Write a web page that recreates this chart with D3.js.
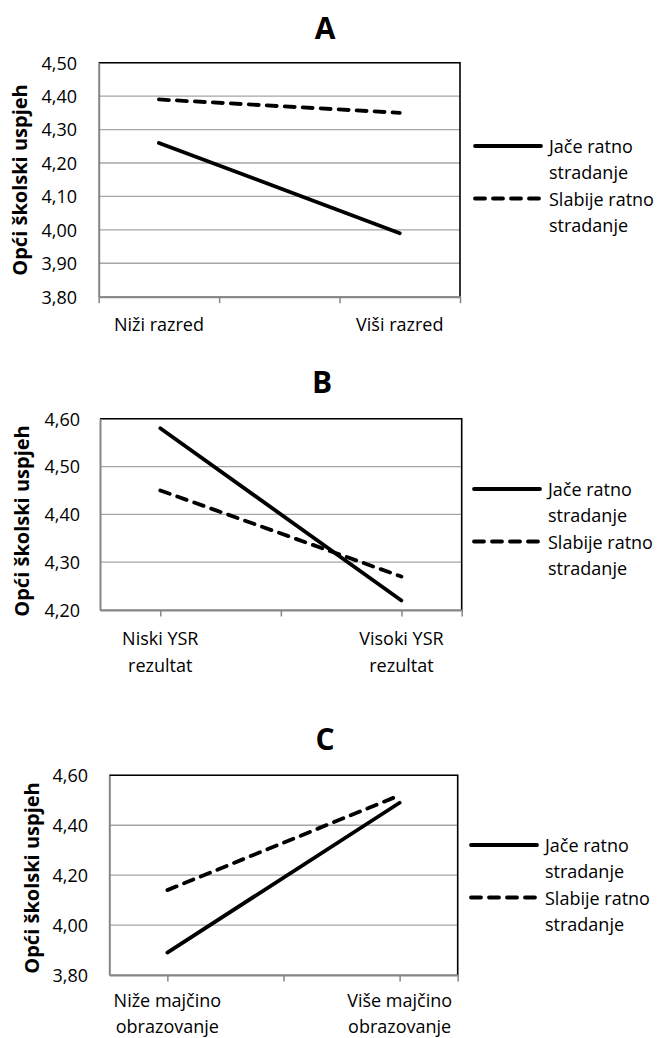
<!DOCTYPE html>
<html>
<head>
<meta charset="utf-8">
<script src="https://cdn.jsdelivr.net/npm/d3@7"></script>
<style>
  body { margin: 0; background: #fff; }
  svg { display: block; font-family: "Open Sans", sans-serif; }
</style>
</head>
<body>
<div id="canvas"></div>
<script>
// chart values
const panelTitles = ["A", "B", "C"];
const yAxisTitle = "Opći školski uspjeh";
const legendLines = [["Jače ratno", "stradanje"], ["Slabije ratno", "stradanje"]];

const catLabelsA = [["Niži razred"], ["Viši razred"]];
const catLabelsB = [["Niski YSR", "rezultat"], ["Visoki YSR", "rezultat"]];
const catLabelsC = [["Niže majčino", "obrazovanje"], ["Više majčino", "obrazovanje"]];

const catX = [1, 3];

const strongA = [4.26, 3.99];
const weakA = [4.39, 4.35];
const strongB = [4.58, 4.22];
const weakB = [4.45, 4.27];
const strongC = [3.89, 4.49];
const weakC = [4.14, 4.52];

const yTicksA = [3.8, 3.9, 4.0, 4.1, 4.2, 4.3, 4.4, 4.5];
const yTicksB = [4.2, 4.3, 4.4, 4.5, 4.6];
const yTicksC = [3.8, 4.0, 4.2, 4.4, 4.6];

const xTicksA = [0.5, 1.5, 2.5, 3.5];
const xTicksBC = [1, 2, 3, 3.5];

// layout for each panel (pixels)
const panels = [
  { title: panelTitles[0], cats: catLabelsA, strong: strongA, weak: weakA, yTicks: yTicksA, xTicks: xTicksA,
    left: 98.7, right: 460, top: 62.7, bottom: 296.7, titleX: 325, titleY: 39,
    tickRight: 77, yLabX: 20, yLabY: 180, catY: 331, catGap: 27, legX: 473, legY: 146 },
  { title: panelTitles[1], cats: catLabelsB, strong: strongB, weak: weakB, yTicks: yTicksB, xTicks: xTicksBC,
    left: 100, right: 461.7, top: 418.7, bottom: 610, titleX: 322, titleY: 393,
    tickRight: 80, yLabX: 21.7, yLabY: 521, catY: 645, catGap: 27, legX: 472, legY: 489 },
  { title: panelTitles[2], cats: catLabelsC, strong: strongC, weak: weakC, yTicks: yTicksC, xTicks: xTicksBC,
    left: 109.3, right: 457.7, top: 775.3, bottom: 975, titleX: 325, titleY: 750,
    tickRight: 88, yLabX: 31.7, yLabY: 878, catY: 1007, catGap: 25.5, legX: 469, legY: 845 }
];

const width = 658, height = 1038;
const svg = d3.select("#canvas").append("svg")
  .attr("width", width)
  .attr("height", height);

const dash = "10,8";

panels.forEach(p => {
  const g = svg.append("g");
  const x = d3.scaleLinear().domain([0.5, 3.5]).range([p.left, p.right]);
  const y = d3.scaleLinear().domain(d3.extent(p.yTicks)).range([p.bottom, p.top]);

  // gridlines
  g.selectAll(".grid")
    .data(p.yTicks)
    .enter()
    .append("line")
    .attr("x1", p.left).attr("x2", p.right)
    .attr("y1", d => y(d)).attr("y2", d => y(d))
    .attr("stroke", "#a6a6a6")
    .attr("stroke-width", 1.3);

  // plot border (top + right black)
  g.append("path")
    .attr("d", `M${p.left},${p.top}H${p.right}V${p.bottom}`)
    .attr("fill", "none")
    .attr("stroke", "#000")
    .attr("stroke-width", 1.6);

  // y axis (left) and x axis (bottom), grey
  const yAxis = d3.axisLeft(y).tickValues(p.yTicks).tickSize(0).tickFormat(d => d3.format(".2f")(d).replace(".", ","));
  const yg = g.append("g").attr("transform", `translate(${p.left},0)`).call(yAxis);
  yg.select(".domain").attr("stroke", "#868686").attr("stroke-width", 2);
  yg.selectAll("text")
    .attr("x", p.tickRight - p.left)
    .attr("dy", "0.35em")
    .attr("fill", "#000")
    .style("font-size", "18px")
    .style("font-family", "Open Sans");

  const xAxis = d3.axisBottom(x).tickValues(p.xTicks).tickSize(6.5).tickSizeOuter(0).tickFormat("");
  const xg = g.append("g").attr("transform", `translate(0,${p.bottom})`).call(xAxis);
  xg.select(".domain").attr("stroke", "#868686").attr("stroke-width", 2);
  xg.selectAll(".tick line").attr("stroke", "#868686").attr("stroke-width", 1.5);

  // category labels
  p.cats.forEach((lines, i) => {
    const t = g.append("text")
      .attr("text-anchor", "middle")
      .style("font-size", "18px");
    lines.forEach((s, j) => {
      t.append("tspan")
        .attr("x", x(catX[i]))
        .attr("y", p.catY + j * p.catGap)
        .text(s);
    });
  });

  // series lines
  const line = d3.line().x((d, i) => x(catX[i])).y(d => y(d));
  g.append("path")
    .datum(p.strong)
    .attr("d", line)
    .attr("fill", "none")
    .attr("stroke", "#000")
    .attr("stroke-width", 3.8)
    .attr("stroke-linecap", "round");
  g.append("path")
    .datum(p.weak)
    .attr("d", line)
    .attr("fill", "none")
    .attr("stroke", "#000")
    .attr("stroke-width", 3.8)
    .attr("stroke-linecap", "round")
    .attr("stroke-dasharray", dash);

  // title
  g.append("text")
    .attr("x", p.titleX)
    .attr("y", p.titleY)
    .attr("text-anchor", "middle")
    .attr("font-weight", "bold")
    .style("font-size", "30px")
    .text(p.title);

  // y axis title
  g.append("text")
    .attr("transform", `translate(${p.yLabX + 7},${p.yLabY}) rotate(-90)`)
    .attr("text-anchor", "middle")
    .attr("font-weight", "bold")
    .style("font-size", "20px")
    .text(yAxisTitle);

  // legend
  legendLines.forEach((lines, i) => {
    const ly = p.legY + i * 52.5;
    g.append("line")
      .attr("x1", p.legX + 2).attr("x2", p.legX + 68)
      .attr("y1", ly).attr("y2", ly)
      .attr("stroke", "#000")
      .attr("stroke-width", 3.8)
      .attr("stroke-linecap", "round")
      .attr("stroke-dasharray", i === 1 ? dash : null);
    const t = g.append("text").style("font-size", "18px");
    lines.forEach((s, j) => {
      t.append("tspan")
        .attr("x", p.legX + 76)
        .attr("y", ly + 7 + j * 26)
        .text(s);
    });
  });
});
</script>
</body>
</html>
